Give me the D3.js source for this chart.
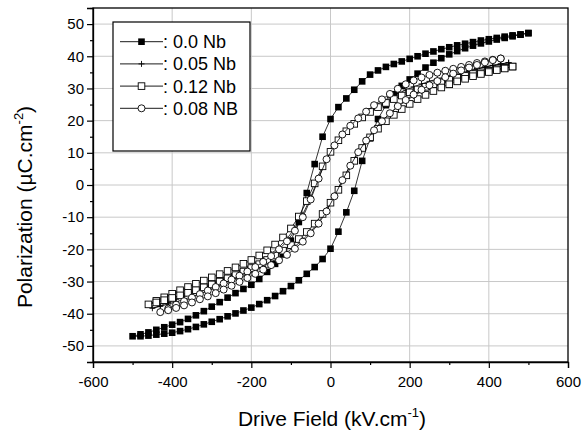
<!DOCTYPE html>
<html lang="en">
<head>
<meta charset="UTF-8">
<title>Polarization hysteresis</title>
<style>
  body { margin: 0; background: #fff; }
  text { font-family: "Liberation Sans", Arial, Helvetica, sans-serif; fill: #000; }
  .grid line { stroke: #c8c8c8; stroke-width: 1; }
  .loop { fill: none; stroke: #000; stroke-width: 0.8; }
</style>
<script src="https://d3js.org/d3.v7.min.js"></script>
</head>
<body>
<svg width="585" height="437"></svg>
<script>
// series: 0.0 Nb (filled squares)
const nb00Field = [-500,-480,-460,-440,-420,-400,-380,-360,-340,-320,-300,-280,-260,-240,-220,-200,-180,-160,-140,-120,-100,-80,-60,-40,-20,0,20,40,60,80,100,120,140,160,180,200,220,240,260,280,300,320,340,360,380,400,420,440,460,480,500];
const nb00Upper = [-47.0,-46.4,-45.8,-45.0,-44.2,-43.4,-42.6,-41.6,-40.5,-39.2,-37.8,-36.4,-35.0,-33.6,-32.3,-31.0,-29.2,-27.0,-24.5,-21.5,-17.3,-11.5,-2.5,6.5,15.0,20.5,24.2,26.9,29.6,32.2,34.3,35.6,36.7,37.6,38.4,39.2,40.0,40.8,41.5,42.2,42.8,43.4,43.9,44.4,44.9,45.3,45.7,46.1,46.5,46.8,47.2];
const nb00Lower = [-47.2,-47.0,-46.8,-46.5,-46.2,-45.9,-45.4,-44.8,-44.1,-43.3,-42.5,-41.7,-40.8,-39.9,-39.0,-38.1,-37.0,-35.8,-34.5,-33.0,-31.4,-29.6,-27.6,-25.5,-23.0,-19.8,-14.5,-8.5,-1.8,7.5,14.5,20.5,24.8,28.2,30.8,32.8,34.6,36.5,38.0,39.4,40.6,41.6,42.5,43.3,44.0,44.6,45.2,45.7,46.2,46.7,47.2];

// series: 0.05 Nb (plus)
const nb05Field = [-450,-430,-410,-390,-370,-350,-330,-310,-290,-270,-250,-230,-210,-190,-170,-150,-130,-110,-90,-70,-50,-30,-10,10,30,50,70,90,110,130,150,170,190,210,230,250,270,290,310,330,350,370,390,410,430,450];
const nb05Upper = [-38.3,-37.5,-36.5,-35.5,-34.5,-33.5,-32.5,-31.5,-30.5,-29.4,-28.3,-27.2,-26.0,-24.7,-23.2,-21.4,-19.3,-16.7,-13.4,-9.2,-3.8,2.3,8.0,12.4,15.8,18.5,20.8,22.8,24.5,25.9,27.2,28.4,29.5,30.5,31.4,32.2,33.0,33.7,34.4,35.0,35.6,36.2,36.7,37.2,37.6,38.0];
const nb05Lower = [-38.3,-37.7,-37.0,-36.3,-35.5,-34.7,-33.8,-32.9,-32.0,-31.0,-30.0,-28.9,-27.8,-26.6,-25.3,-24.0,-22.5,-20.9,-19.1,-17.0,-14.5,-11.5,-7.8,-3.3,1.5,6.2,10.4,14.0,17.1,19.8,22.2,24.3,26.1,27.7,29.1,30.4,31.6,32.6,33.6,34.5,35.3,36.0,36.6,37.1,37.6,38.0];

// series: 0.12 Nb (open squares)
const nb12Field = [-460,-440,-420,-400,-380,-360,-340,-320,-300,-280,-260,-240,-220,-200,-180,-160,-140,-120,-100,-80,-60,-40,-20,0,20,40,60,80,100,120,140,160,180,200,220,240,260,280,300,320,340,360,380,400,420,440,460];
const nb12Upper = [-37.1,-36.0,-34.9,-33.8,-32.7,-31.7,-30.7,-29.7,-28.7,-27.7,-26.7,-25.6,-24.5,-23.3,-21.9,-20.3,-18.5,-16.3,-13.5,-9.8,-5.0,0.5,5.8,10.3,13.9,16.7,19.0,21.0,22.7,24.2,25.5,26.7,27.8,28.8,29.7,30.5,31.3,32.0,32.7,33.3,33.9,34.5,35.0,35.5,36.0,36.4,36.8];
const nb12Lower = [-37.1,-36.5,-35.8,-35.1,-34.3,-33.5,-32.7,-31.8,-30.9,-30.0,-29.0,-28.0,-26.9,-25.8,-24.6,-23.3,-21.9,-20.4,-18.7,-16.8,-14.6,-12.0,-9.0,-5.5,-1.5,3.0,7.5,11.5,14.8,17.5,19.8,21.8,23.6,25.2,26.7,28.0,29.2,30.3,31.3,32.2,33.0,33.8,34.5,35.1,35.7,36.2,36.8];

// series: 0.08 NB (open circles)
const nb08Field = [-430,-410,-390,-370,-350,-330,-310,-290,-270,-250,-230,-210,-190,-170,-150,-130,-110,-90,-70,-50,-30,-10,10,30,50,70,90,110,130,150,170,190,210,230,250,270,290,310,330,350,370,390,410,430];
const nb08Upper = [-39.5,-38.4,-37.2,-36.1,-35.0,-33.9,-32.8,-31.7,-30.6,-29.4,-28.2,-26.9,-25.5,-23.9,-22.1,-20.0,-17.5,-14.2,-10.0,-4.5,2.0,8.0,12.3,15.7,18.4,20.7,22.8,24.8,26.6,28.3,29.9,31.3,32.5,33.4,34.2,34.9,35.5,36.1,36.7,37.3,37.9,38.4,38.9,39.3];
const nb08Lower = [-39.5,-38.9,-38.2,-37.4,-36.5,-35.5,-34.6,-33.6,-32.5,-31.3,-30.1,-28.9,-27.6,-26.3,-24.9,-23.4,-21.7,-19.8,-17.6,-15.0,-12.0,-8.2,-3.5,1.5,6.0,10.2,13.8,17.0,19.8,22.3,24.5,26.4,28.1,29.6,31.0,32.3,33.5,34.6,35.6,36.5,37.3,38.1,38.8,39.3];

const seriesNames = [": 0.0 Nb", ": 0.05 Nb", ": 0.12 Nb", ": 0.08 NB"];
const seriesMarks = ["fsquare", "plus", "osquare", "circle"];

const xTicks = [-600, -400, -200, 0, 200, 400, 600];
const xMinor = [-500, -300, -100, 100, 300, 500];
const yTicks = [-50, -40, -30, -20, -10, 0, 10, 20, 30, 40, 50];
const yMinor = [-55, -45, -35, -25, -15, -5, 5, 15, 25, 35, 45, 55];

const svg = d3.select("svg");
const mLeft = 93, mRight = 568, mTop = 8, mBottom = 362;

const x = d3.scaleLinear().domain([-600, 600]).range([mLeft, mRight]);
const y = d3.scaleLinear().domain([-55, 55]).range([mBottom, mTop]);

// build closed loops: upper branch from +Emax down, then lower branch back up
function loop(field, upper, lower) {
  const pts = [];
  for (let i = field.length - 1; i >= 0; i--) pts.push([field[i], upper[i]]);
  for (let i = 1; i < field.length; i++) pts.push([field[i], lower[i]]);
  return pts;
}
const loops = [
  loop(nb00Field, nb00Upper, nb00Lower),
  loop(nb05Field, nb05Upper, nb05Lower),
  loop(nb12Field, nb12Upper, nb12Lower),
  loop(nb08Field, nb08Upper, nb08Lower)
];

// grid
const grid = svg.append("g").attr("class", "grid");
grid.selectAll(".gx").data(xTicks.slice(1, -1)).enter().append("line")
  .attr("x1", d => x(d)).attr("x2", d => x(d)).attr("y1", mTop).attr("y2", mBottom);
grid.selectAll(".gy").data(yTicks).enter().append("line")
  .attr("x1", mLeft).attr("x2", mRight).attr("y1", d => y(d)).attr("y2", d => y(d));

// marker drawing
function drawMark(g, type, cx, cy) {
  const h = 3.3;
  if (type === "fsquare") {
    g.append("rect").attr("x", cx - h).attr("y", cy - h).attr("width", 2 * h).attr("height", 2 * h)
      .attr("fill", "#000");
  } else if (type === "osquare") {
    g.append("rect").attr("x", cx - h).attr("y", cy - h).attr("width", 2 * h).attr("height", 2 * h)
      .attr("fill", "#fff").attr("stroke", "#000").attr("stroke-width", 0.9);
  } else if (type === "circle") {
    g.append("circle").attr("cx", cx).attr("cy", cy).attr("r", 3.5)
      .attr("fill", "#fff").attr("stroke", "#000").attr("stroke-width", 0.9);
  } else {
    g.append("path").attr("d", `M${cx - 3},${cy}H${cx + 3}M${cx},${cy - 3}V${cy + 3}`)
      .attr("stroke", "#000").attr("stroke-width", 0.9).attr("fill", "none");
  }
}

const line = d3.line().x(d => x(d[0])).y(d => y(d[1]));
const plot = svg.append("g");
loops.forEach((pts, i) => {
  const g = plot.append("g");
  g.append("path").attr("class", "loop").attr("d", line(pts));
  pts.forEach(p => drawMark(g, seriesMarks[i], x(p[0]), y(p[1])));
});

// frame
svg.append("rect").attr("x", mLeft).attr("y", mTop).attr("width", mRight - mLeft).attr("height", mBottom - mTop)
  .attr("fill", "none").attr("stroke", "#000").attr("stroke-width", 1.3);

// axes
const xAxis = svg.append("g").attr("transform", `translate(0,${mBottom})`)
  .call(d3.axisBottom(x).tickValues(xTicks).tickSize(6).tickPadding(8).tickFormat(d3.format("d")));
svg.append("g").attr("transform", `translate(0,${mBottom})`)
  .call(d3.axisBottom(x).tickValues(xMinor).tickSize(3).tickFormat(""))
  .call(g => g.select(".domain").remove());
const yAxis = svg.append("g").attr("transform", `translate(${mLeft},0)`)
  .call(d3.axisLeft(y).tickValues(yTicks).tickSize(6).tickPadding(3).tickFormat(d3.format("d")));
svg.append("g").attr("transform", `translate(${mLeft},0)`)
  .call(d3.axisLeft(y).tickValues(yMinor).tickSize(3).tickFormat(""))
  .call(g => g.select(".domain").remove());

svg.selectAll(".tick line").attr("stroke", "#000").attr("stroke-width", 1.2);
svg.selectAll(".domain").attr("stroke", "#000").attr("stroke-width", 1.3);
svg.selectAll(".tick text").attr("font-size", 15).attr("font-family", "Liberation Sans, Arial, sans-serif");
yAxis.selectAll(".tick text").text(d => d < 0 ? "-" + Math.abs(d) : d);
xAxis.selectAll(".tick text").text(d => d < 0 ? "-" + Math.abs(d) : d);

// axis titles
const xt = svg.append("text").attr("x", 332).attr("y", 426).attr("text-anchor", "middle").attr("font-size", 21);
xt.append("tspan").text("Drive Field (kV.cm");
xt.append("tspan").attr("font-size", 13).attr("dy", -9).text("-1");
xt.append("tspan").attr("dy", 9).text(")");

const yt = svg.append("text").attr("transform", "translate(32,207) rotate(-90)")
  .attr("text-anchor", "middle").attr("font-size", 21);
yt.append("tspan").text("Polarization (\u00b5C.cm");
yt.append("tspan").attr("font-size", 13).attr("dy", -9).text("-2");
yt.append("tspan").attr("dy", 9).text(")");

// legend
const lg = svg.append("g");
lg.append("rect").attr("x", 113).attr("y", 22).attr("width", 137).attr("height", 129)
  .attr("fill", "#fff").attr("stroke", "#000").attr("stroke-width", 1.2);
seriesNames.forEach((name, i) => {
  const ly = 41.7 + i * 22.2;
  lg.append("line").attr("x1", 120).attr("x2", 163).attr("y1", ly).attr("y2", ly)
    .attr("stroke", "#000").attr("stroke-width", 0.9);
  drawMark(lg, seriesMarks[i], 141.5, ly);
  lg.append("text").attr("x", 163).attr("y", ly).attr("dy", "0.36em")
    .attr("font-size", 18).text(name);
});
</script>
</body>
</html>
